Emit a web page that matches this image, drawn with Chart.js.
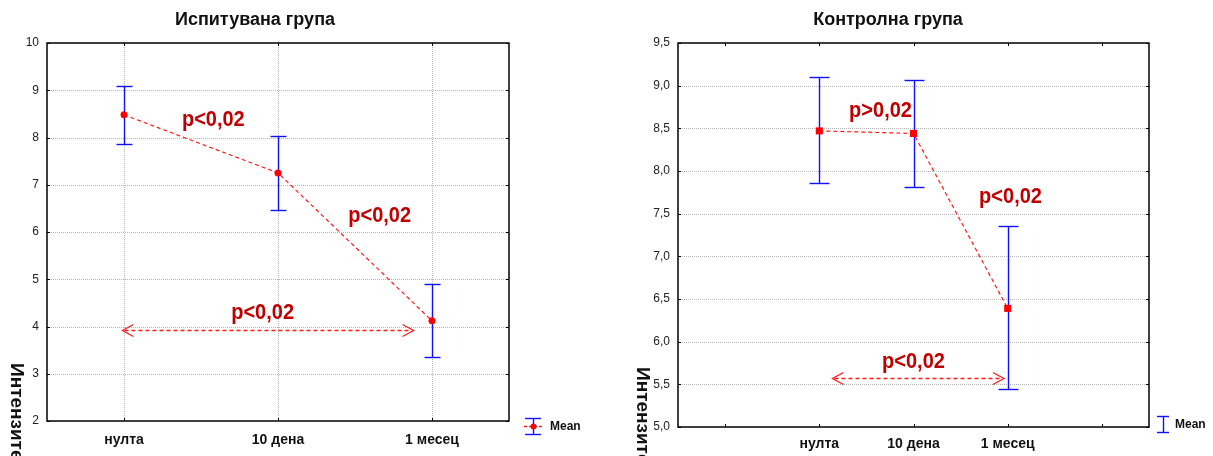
<!DOCTYPE html>
<html>
<head>
<meta charset="utf-8">
<script src="https://cdn.jsdelivr.net/npm/chart.js@4/dist/chart.umd.min.js"></script>
<style>
  html, body { margin: 0; padding: 0; background: #fff; }
  #wrap { position: relative; width: 1213px; height: 456px; overflow: hidden; }
  #c1 { position: absolute; left: 0; top: 0; }
  #c2 { position: absolute; left: 606px; top: 0; }
</style>
</head>
<body>
<div id="wrap">
  <canvas id="c1" width="606" height="456"></canvas>
  <canvas id="c2" width="607" height="456"></canvas>
</div>
<script>
const FONT = "'Liberation Sans', Arial, sans-serif";

// Испитувана група
const leftCats   = ['нулта', '10 дена', '1 месец'];
const leftMean   = [8.48, 7.25, 4.12];
const leftUpper  = [9.10, 8.03, 4.90];
const leftLower  = [7.87, 6.47, 3.35];
const leftYTicks = ['2', '3', '4', '5', '6', '7', '8', '9', '10'];

// Контролна група (empty slots at both ends)
const rightCats   = ['', 'нулта', '10 дена', '1 месец', ''];
const rightMean   = [null, 8.47, 8.44, 6.39, null];
const rightUpper  = [null, 9.10, 9.07, 7.36, null];
const rightLower  = [null, 7.86, 7.81, 5.45, null];
const rightYTicks = ['5,0', '5,5', '6,0', '6,5', '7,0', '7,5', '8,0', '8,5', '9,0', '9,5'];

// p-value notes and arrows, in axis units (category index, y value)
const leftNotes   = [{ t: 'p<0,02', x: 0.58, y: 8.37 }, { t: 'p<0,02', x: 1.66, y: 6.34 }, { t: 'p<0,02', x: 0.90, y: 4.29 }];
const leftArrows  = [{ x1: -0.01, x2: 1.88, y: 3.92 }];
const rightNotes  = [{ t: 'p>0,02', x: 1.65, y: 8.71 }, { t: 'p<0,02', x: 3.03, y: 7.70 }, { t: 'p<0,02', x: 2.00, y: 5.76 }];
const rightArrows = [{ x1: 1.14, x2: 2.96, y: 5.57 }];

const yTitle = 'Интензитет на болка';

function extras(cfg) {
    function line(ctx, x1, y1, x2, y2) {
        ctx.beginPath(); ctx.moveTo(x1, y1); ctx.lineTo(x2, y2); ctx.stroke();
    }
    return {
        id: 'extras',
        beforeDatasetsDraw(chart) {
            const { ctx, chartArea: a, scales: { x, y } } = chart;
            ctx.save();
            // dotted grid
            ctx.strokeStyle = '#b4b4b4';
            ctx.lineWidth = 1;
            ctx.setLineDash([1, 1]);
            y.ticks.forEach(t => {
                const py = Math.round(y.getPixelForValue(t.value)) + 0.5;
                if (py > a.top + 2 && py < a.bottom - 2) line(ctx, a.left, py, a.right, py);
            });
            if (cfg.vGrid) {
                x.ticks.forEach((t, i) => {
                    const px = Math.round(x.getPixelForTick(i)) + 0.5;
                    line(ctx, px, a.top, px, a.bottom);
                });
            }
            ctx.setLineDash([]);
            // error bars
            ctx.strokeStyle = '#1010ff';
            ctx.lineWidth = 1.4;
            cfg.mean.forEach((m, i) => {
                if (m == null) return;
                const px = Math.round(x.getPixelForValue(i)) + 0.5;
                const up = Math.round(y.getPixelForValue(cfg.upper[i])) + 0.5;
                const lo = Math.round(y.getPixelForValue(cfg.lower[i])) + 0.5;
                line(ctx, px, up, px, lo);
                line(ctx, px - cfg.cap, up, px + cfg.cap, up);
                line(ctx, px - cfg.cap, lo, px + cfg.cap, lo);
            });
            ctx.restore();
        },
        afterDraw(chart) {
            const { ctx, chartArea: a, scales: { x, y } } = chart;
            ctx.save();
            // frame
            ctx.strokeStyle = '#000';
            ctx.lineWidth = 1.5;
            ctx.strokeRect(a.left, a.top, a.right - a.left, a.bottom - a.top);
            ctx.lineWidth = 1;
            y.ticks.forEach(t => {
                const py = Math.round(y.getPixelForValue(t.value)) + 0.5;
                line(ctx, a.left, py, a.left + 3, py);
                line(ctx, a.right - 3, py, a.right, py);
            });
            x.ticks.forEach((t, i) => {
                const px = Math.round(x.getPixelForTick(i)) + 0.5;
                line(ctx, px, a.top, px, a.top + 3);
                line(ctx, px, a.bottom - 3, px, a.bottom);
            });

            // arrows
            ctx.strokeStyle = '#ff1a1a';
            ctx.lineWidth = 1.3;
            cfg.arrows.forEach(ar => {
                const x1 = x.getPixelForValue(ar.x1), x2 = x.getPixelForValue(ar.x2);
                const py = Math.round(y.getPixelForValue(ar.y)) + 0.5;
                ctx.setLineDash([4, 3]);
                line(ctx, x1 + 2, py, x2 - 2, py);
                ctx.setLineDash([]);
                ctx.beginPath();
                ctx.moveTo(x1 + 11, py - 6); ctx.lineTo(x1, py); ctx.lineTo(x1 + 11, py + 6);
                ctx.moveTo(x2 - 11, py - 6); ctx.lineTo(x2, py); ctx.lineTo(x2 - 11, py + 6);
                ctx.stroke();
            });

            // p-value notes
            ctx.fillStyle = '#c00000';
            ctx.font = 'bold 20px ' + FONT;
            ctx.textAlign = 'center';
            ctx.textBaseline = 'middle';
            cfg.notes.forEach(n => {
                const px = x.getPixelForValue(n.x), py = y.getPixelForValue(n.y);
                ctx.save();
                ctx.translate(px, py);
                ctx.scale(1, 1.12);
                ctx.fillText(n.t, 0, 0);
                ctx.restore();
            });

            // title
            ctx.fillStyle = '#111';
            ctx.font = 'bold 18px ' + FONT;
            ctx.fillText(cfg.title, cfg.titleX, 20);

            // rotated y title (clipped by the canvas bottom)
            ctx.save();
            ctx.translate(cfg.yTitleX, cfg.yTitleY);
            ctx.rotate(Math.PI / 2);
            ctx.textAlign = 'left';
            ctx.font = 'bold 19px ' + FONT;
            ctx.fillText(yTitle, 0, 0);
            ctx.restore();

            // legend
            const lx = cfg.legendX, ly = cfg.legendY;
            ctx.strokeStyle = '#1010ff';
            ctx.lineWidth = 1.4;
            line(ctx, lx + 0.5, ly - 8, lx + 0.5, ly + 8);
            line(ctx, lx - cfg.legendCap, ly - 7.5, lx + cfg.legendCap, ly - 7.5);
            line(ctx, lx - cfg.legendCap, ly + 8.5, lx + cfg.legendCap, ly + 8.5);
            if (cfg.legendDot) {
                ctx.strokeStyle = '#ff1a1a';
                ctx.setLineDash([3, 2]);
                line(ctx, lx - 9, ly + 0.5, lx + 9, ly + 0.5);
                ctx.setLineDash([]);
                ctx.fillStyle = '#ff0000';
                ctx.beginPath(); ctx.arc(lx + 0.5, ly + 0.5, 3, 0, Math.PI * 2); ctx.fill();
            }
            ctx.fillStyle = '#111';
            ctx.font = 'bold 12px ' + FONT;
            ctx.textAlign = 'left';
            ctx.fillText('Mean', lx + cfg.legendText, ly + 1);
            ctx.restore();
        }
    };
}

function makeChart(id, c) {
    return new Chart(document.getElementById(id), {
        type: 'line',
        data: {
            labels: c.cats,
            datasets: [{
                data: c.mean,
                borderColor: '#ff1a1a',
                borderWidth: 1.2,
                borderDash: [4, 3],
                tension: 0,
                pointStyle: c.pointStyle,
                pointRadius: c.pointRadius,
                pointBackgroundColor: '#ff0000',
                pointBorderColor: '#ff0000',
                pointBorderWidth: 0
            }]
        },
        options: {
            responsive: false,
            animation: false,
            events: [],
            layout: { padding: { top: 43, right: c.padRight, bottom: 0, left: 0 } },
            plugins: { legend: { display: false }, tooltip: { enabled: false }, title: { display: false } },
            scales: {
                x: {
                    type: 'category',
                    offset: true,
                    grid: { display: false },
                    border: { display: false },
                    ticks: { color: '#111', font: { family: FONT, size: 14, weight: 'bold' }, padding: c.xPad, maxRotation: 0, autoSkip: false },
                    afterFit: s => { s.height = c.xHeight; }
                },
                y: {
                    min: c.min, max: c.max,
                    grid: { display: false },
                    border: { display: false },
                    ticks: {
                        stepSize: c.step,
                        color: '#222',
                        font: { family: FONT, size: 12 },
                        padding: 0,
                        callback: (v, i) => c.yTicks[i]
                    },
                    afterFit: s => { s.width = c.yWidth; }
                }
            }
        },
        plugins: [extras(c)]
    });
}

makeChart('c1', {
    cats: leftCats, mean: leftMean, upper: leftUpper, lower: leftLower, yTicks: leftYTicks,
    notes: leftNotes, arrows: leftArrows,
    min: 2, max: 10, step: 1,
    pointStyle: 'circle', pointRadius: 3.5, cap: 8, vGrid: true,
    padRight: 97, yWidth: 47, xHeight: 35, xPad: 3,
    title: 'Испитувана група', titleX: 255,
    yTitleX: 16, yTitleY: 363,
    legendX: 533, legendY: 426, legendCap: 8, legendDot: true, legendText: 17
});

makeChart('c2', {
    cats: rightCats, mean: rightMean, upper: rightUpper, lower: rightLower, yTicks: rightYTicks,
    notes: rightNotes, arrows: rightArrows,
    min: 5, max: 9.5, step: 0.5,
    pointStyle: 'rect', pointRadius: 5, cap: 10, vGrid: false,
    padRight: 64, yWidth: 72, xHeight: 29, xPad: 1,
    title: 'Контролна група', titleX: 282,
    yTitleX: 36, yTitleY: 367,
    legendX: 557, legendY: 424, legendCap: 6, legendDot: false, legendText: 12
});
</script>
</body>
</html>
